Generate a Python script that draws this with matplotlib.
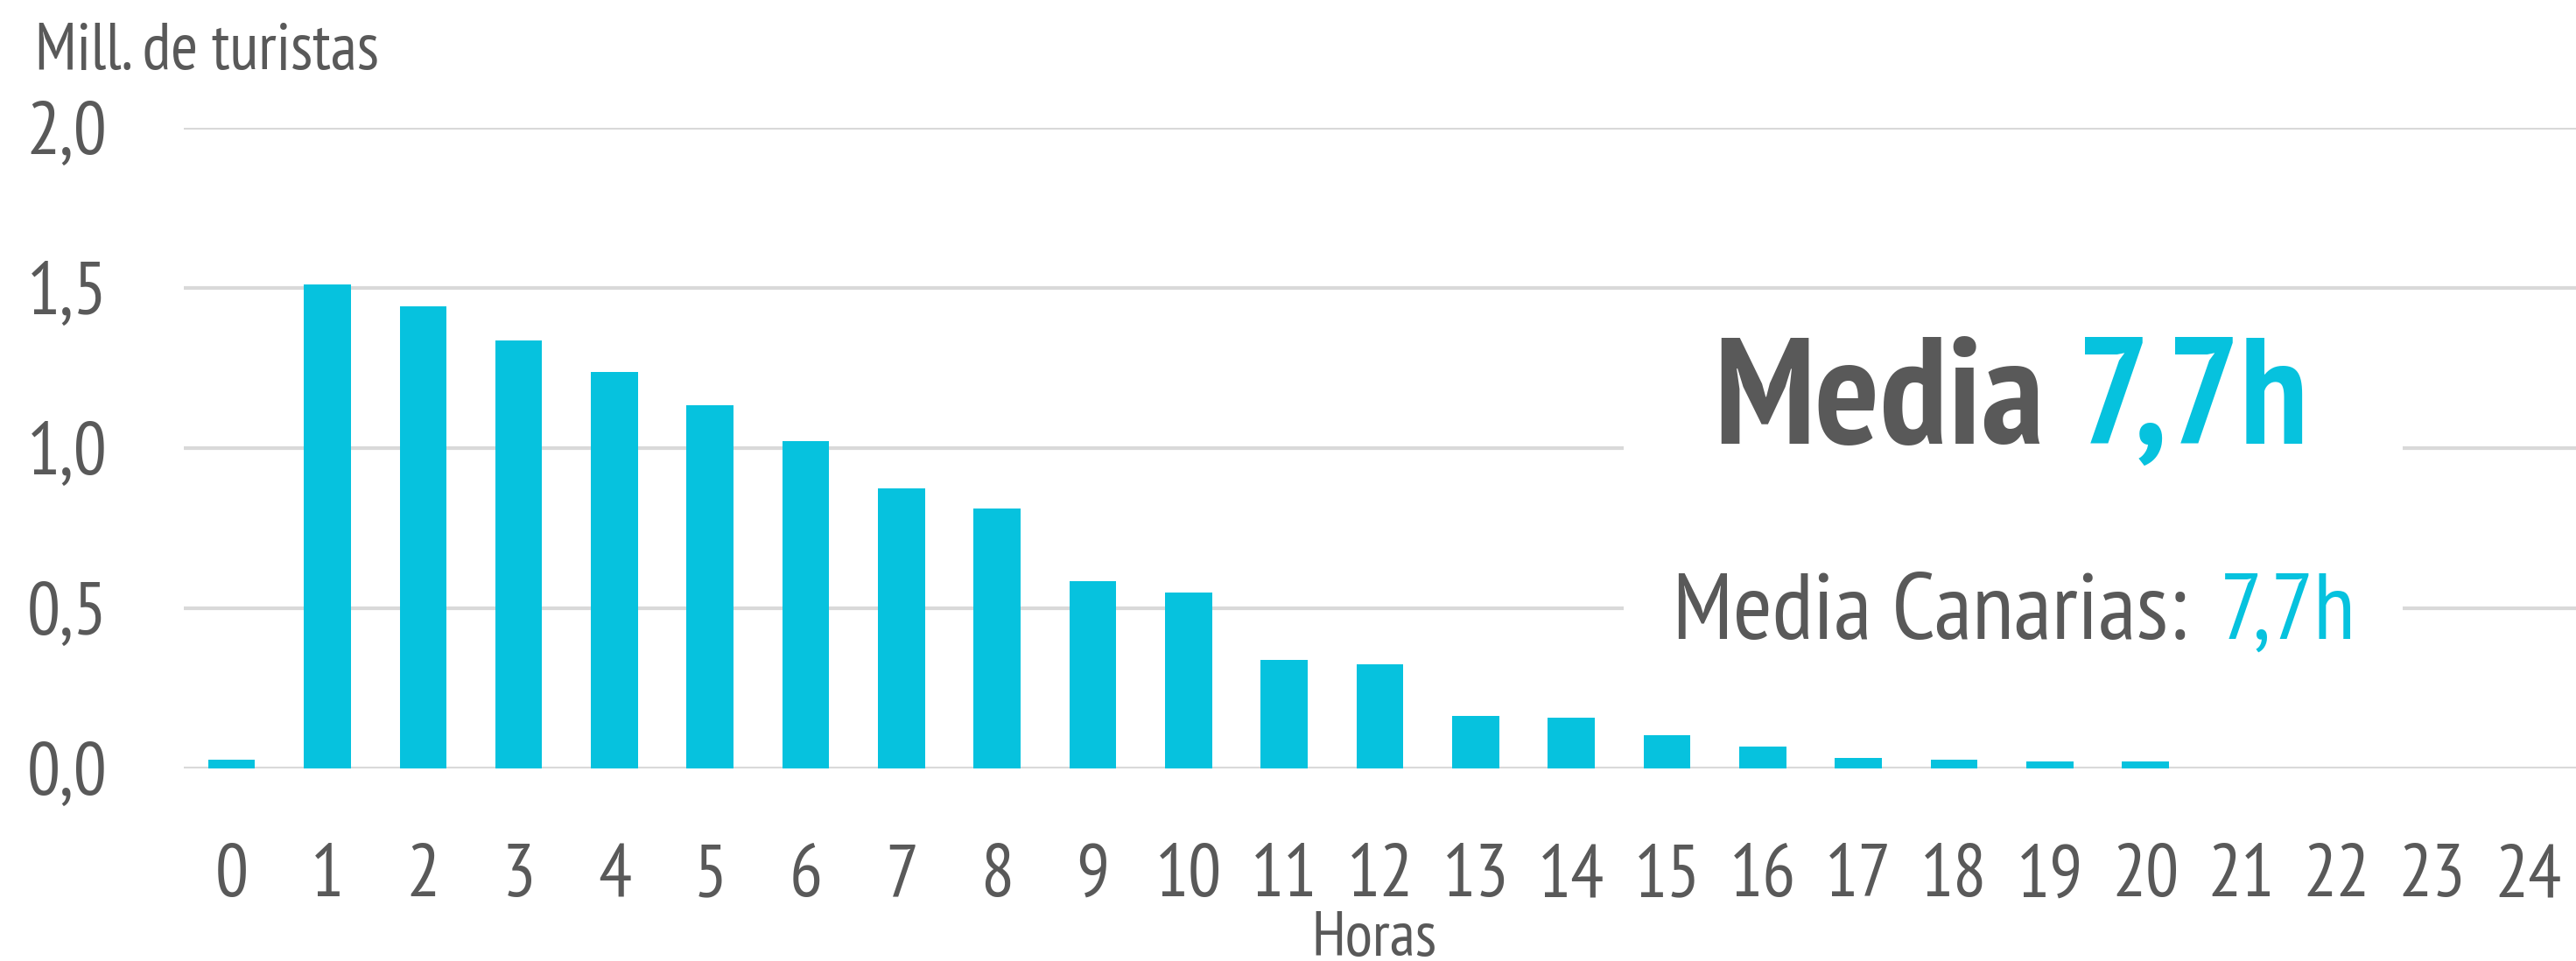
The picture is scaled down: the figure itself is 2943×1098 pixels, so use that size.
import matplotlib
matplotlib.use("Agg")
import matplotlib.pyplot as plt
from matplotlib.patches import Rectangle

horas = list(range(25))
turistas = [0.028, 1.512, 1.442, 1.336, 1.238, 1.134, 1.022, 0.874, 0.812, 0.585, 0.549,
            0.340, 0.325, 0.165, 0.159, 0.104, 0.069, 0.033, 0.027, 0.021, 0.021,
            0, 0, 0, 0]
y_ticks = [0.0, 0.5, 1.0, 1.5, 2.0]
y_labels = ["0,0", "0,5", "1,0", "1,5", "2,0"]
x_labels = [str(h) for h in horas]
media_valor = "7,7h"
media_canarias = "7,7h"

GRAY = "#595959"
CYAN = "#06C2DE"
GRID = "#D9D9D9"
FONT = ["PT Sans Narrow", "Archivo Narrow", "DejaVu Sans"]

plt.rcParams["font.family"] = FONT

W, H = 2943, 1098
fig = plt.figure(figsize=(W / 100, H / 100), dpi=100)
ax = fig.add_axes([210 / W, (H - 878) / H, (W - 210) / W, (878 - 146) / H])

ax.bar(horas, turistas, width=0.49, color=CYAN, zorder=3)
ax.set_xlim(-0.5, 24.5)
ax.set_ylim(0, 2.0)
ax.set_yticks(y_ticks)
ax.set_yticklabels(y_labels)
ax.set_xticks(horas)
ax.set_xticklabels(x_labels)
ax.tick_params(axis="both", length=0, labelsize=61, labelcolor=GRAY)
ax.tick_params(axis="y", pad=63)
ax.tick_params(axis="x", pad=62)
for s in ax.spines.values():
    s.set_visible(False)
ax.yaxis.grid(True, color=GRID, linewidth=3, zorder=0)
ax.set_axisbelow(True)

def fx(px):
    return px / W

def fy(py):
    return 1 - py / H

fig.text(fx(1570), fy(1092), "Horas", fontsize=52, color=GRAY, ha="center", va="baseline")
fig.text(fx(40), fy(79), "Mill. de turistas", fontsize=54, color=GRAY,
         ha="left", va="baseline")

# white box behind the annotation
ax.add_patch(Rectangle((0.602, 0.17), 0.3256, 0.50, transform=ax.transAxes,
                       facecolor="white", edgecolor="none", zorder=2))

t1 = fig.text(fx(1958), fy(507), "Media", fontsize=125, fontweight="bold",
              color=GRAY, ha="left", va="baseline", zorder=4)
ax.annotate(media_valor, xy=(1, 0), xycoords=t1, xytext=(27, 0), textcoords="offset points",
            fontsize=125, fontweight="bold", color=CYAN, ha="left", va="bottom", zorder=4)

t2 = fig.text(fx(1911), fy(730), "Media Canarias:", fontsize=78,
              color=GRAY, ha="left", va="baseline", zorder=4)
ax.annotate(media_canarias, xy=(1, 0), xycoords=t2, xytext=(26, 0), textcoords="offset points",
            fontsize=78, color=CYAN, ha="left", va="bottom", zorder=4)

fig.savefig("out.png", dpi=100, facecolor="white")
